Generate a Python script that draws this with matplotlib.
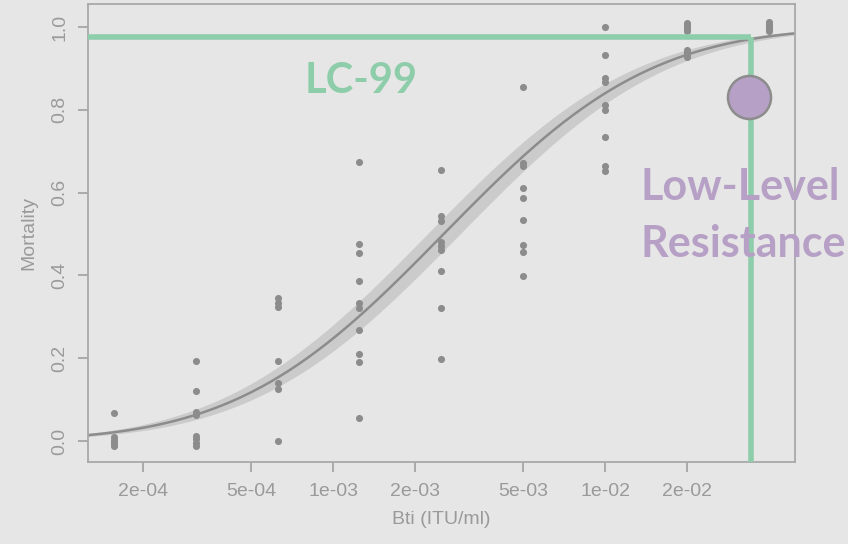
import math
import numpy as np
import matplotlib
matplotlib.use("Agg")
import matplotlib.pyplot as plt

doses = [0.00015625, 0.0003125, 0.000625, 0.00125, 0.0025, 0.005, 0.01, 0.02, 0.04]
mortality = [
    [0.067, 0.010, 0.003, -0.003, -0.008, -0.012],
    [0.193, 0.122, 0.069, 0.062, 0.012, 0.004, -0.004, -0.012],
    [0.345, 0.334, 0.323, 0.193, 0.139, 0.125, 0.0],
    [0.673, 0.477, 0.455, 0.387, 0.334, 0.321, 0.267, 0.210, 0.191, 0.056],
    [0.654, 0.543, 0.531, 0.481, 0.471, 0.461, 0.411, 0.322, 0.198],
    [0.855, 0.672, 0.665, 0.610, 0.586, 0.535, 0.473, 0.456, 0.399],
    [1.0, 0.932, 0.876, 0.868, 0.812, 0.800, 0.734, 0.665, 0.653],
    [1.010, 1.005, 1.0, 0.995, 0.990, 0.945, 0.940, 0.935, 0.928],
    [1.012, 1.005, 1.0, 0.995, 0.990],
]

# probit fit
lc50 = 0.00255
slope = 1.676
band_shift = 0.06   # half width of the grey band, in log10 dose

lc99_dose = 0.0344
lc99_mort = 0.977
low_level_dose = 0.0338
low_level_mort = 0.832

xticks = [2e-4, 5e-4, 1e-3, 2e-3, 5e-3, 1e-2, 2e-2]
xticklabels = ["2e-04", "5e-04", "1e-03", "2e-03", "5e-03", "1e-02", "2e-02"]
yticks = [0.0, 0.2, 0.4, 0.6, 0.8, 1.0]

bg = "#e6e6e6"
grey_txt = "#9a9a9a"
green = "#8ecdaa"
purple = "#b7a0c6"

plt.rcParams["font.family"] = ["Liberation Sans", "DejaVu Sans"]

fig = plt.figure(figsize=(8.48, 5.44), dpi=100, facecolor=bg)
ax = fig.add_axes([88 / 848, 1 - 462 / 544, (795 - 88) / 848, (462 - 4) / 544])
ax.set_facecolor(bg)
ax.set_xscale("log")
ax.set_xlim(1.256e-4, 0.0499)
ax.set_ylim(-0.0507, 1.0556)

phi = np.vectorize(lambda z: 0.5 * (1 + math.erf(z / math.sqrt(2))))
lx = np.linspace(np.log10(1.256e-4), np.log10(0.0499), 300)
mid = phi(slope * (lx - np.log10(lc50)))
lo = phi(slope * (lx - np.log10(lc50) - band_shift))
hi = phi(slope * (lx - np.log10(lc50) + band_shift))
ax.fill_between(10 ** lx, lo, hi, color="#cbcbcb", lw=0, zorder=1)
ax.plot(10 ** lx, mid, color="#8c8c8c", lw=1.8, zorder=2)

for d, ys in zip(doses, mortality):
    ax.scatter([d] * len(ys), ys, s=26, color="#8c8c8c", lw=0, zorder=3)

# LC-99 guide lines
ax.plot([1.256e-4, lc99_dose], [lc99_mort, lc99_mort], color=green, lw=4, zorder=4,
        solid_capstyle="butt")
ax.plot([lc99_dose, lc99_dose], [lc99_mort, -0.2], color=green, lw=4, zorder=4,
        solid_capstyle="butt")
ax.plot([low_level_dose], [low_level_mort], "o", ms=31, mfc=purple, mec="#8c8c8c",
        mew=1.8, zorder=5)

ax.set_xticks(xticks)
ax.set_xticklabels(xticklabels)
ax.xaxis.set_minor_locator(matplotlib.ticker.NullLocator())
ax.set_yticks(yticks)
ax.set_yticklabels(["%.1f" % v for v in yticks], rotation=90, va="center")
ax.tick_params(colors="#a0a0a0", labelcolor=grey_txt, labelsize=14, length=7, width=1.2)
ax.tick_params(axis="x", pad=8)
ax.tick_params(axis="y", pad=7)
for s in ax.spines.values():
    s.set_color("#a8a8a8")
    s.set_linewidth(1.3)

ax.set_xlabel("Bti (ITU/ml)", color=grey_txt, fontsize=14, labelpad=8)
ax.set_ylabel("Mortality", color=grey_txt, fontsize=14, labelpad=10)

fig.text(361 / 848, 1 - 93 / 544, "LC-99", color=green, fontsize=30, fontweight="bold",
         family="Lato", ha="center", va="baseline")
fig.text(641 / 848, 1 - 200 / 544, "Low-Level", color=purple, fontsize=31, fontweight="bold",
         family="Lato", ha="left", va="baseline")
fig.text(641 / 848, 1 - 257 / 544, "Resistance", color=purple, fontsize=31, fontweight="bold",
         family="Lato", ha="left", va="baseline")

fig.savefig("out.png", dpi=100, facecolor=bg)
